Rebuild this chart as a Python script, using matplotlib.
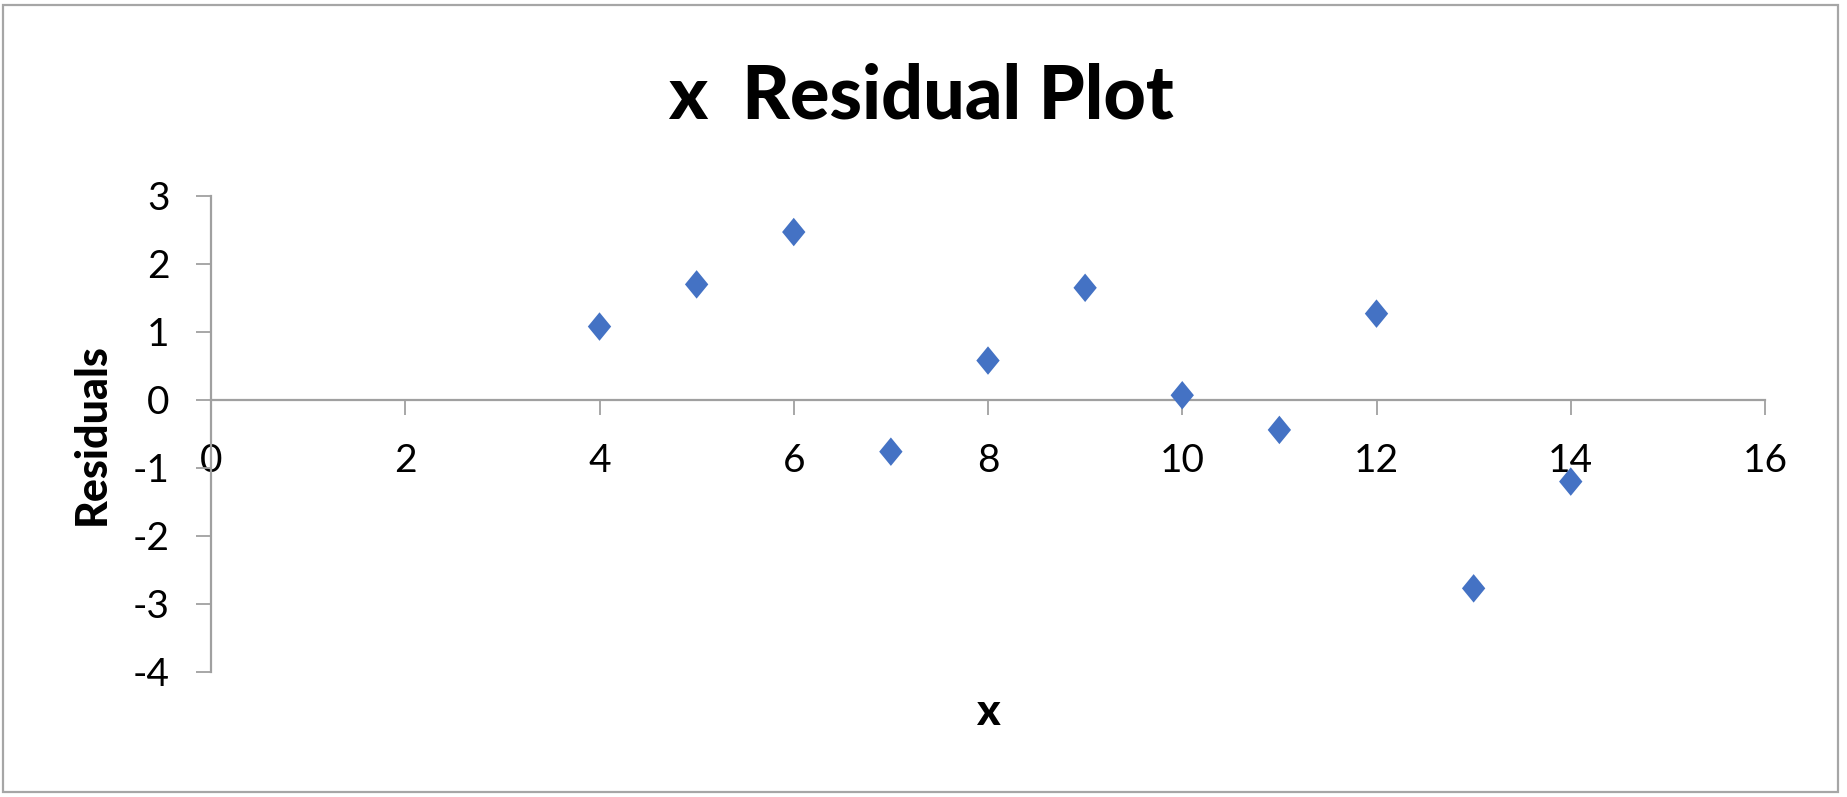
import matplotlib
matplotlib.use("Agg")
import matplotlib.pyplot as plt
from matplotlib.patches import Rectangle

x_vals = [4, 5, 6, 7, 8, 9, 10, 11, 12, 13, 14]
residuals = [1.08, 1.70, 2.47, -0.76, 0.58, 1.65, 0.07, -0.44, 1.27, -2.77, -1.20]
x_ticks = [0, 2, 4, 6, 8, 10, 12, 14, 16]
y_ticks = [-4, -3, -2, -1, 0, 1, 2, 3]
title = "x  Residual Plot"
x_label = "x"
y_label = "Residuals"

plt.rcParams['font.family'] = ['Lato', 'DejaVu Sans']
plt.rcParams['axes.unicode_minus'] = False

W, H, DPI = 1847, 797, 100
fig = plt.figure(figsize=(W / DPI, H / DPI), dpi=DPI)
fig.patch.set_facecolor('white')

# outer chart border
fig.add_artist(Rectangle((3 / W, 5 / H), 1835 / W, 787 / H, transform=fig.transFigure,
                         fill=False, edgecolor='#a6a6a6', linewidth=1.6))

left, right = 211 / W, 1765 / W
bottom, top = 1 - 672 / H, 1 - 196 / H
ax = fig.add_axes([left, bottom, right - left, top - bottom])

diamond = [(0, 1), (0.82, 0), (0, -1), (-0.82, 0), (0, 1)]
ax.scatter(x_vals, residuals, marker=diamond, s=20.5 ** 2, color='#4472C4',
           edgecolors='none', zorder=3, clip_on=False)

ax.set_xlim(0, 16)
ax.set_ylim(-4, 3)
ax.set_xticks(x_ticks)
ax.set_yticks(y_ticks)
ax.set_xticklabels([str(v) for v in x_ticks])
ax.set_yticklabels([str(v) for v in y_ticks])

axis_col = '#a0a0a0'
for s in ['top', 'right']:
    ax.spines[s].set_visible(False)
ax.spines['bottom'].set_position(('data', 0))
ax.spines['bottom'].set_color(axis_col)
ax.spines['left'].set_color(axis_col)
ax.spines['bottom'].set_linewidth(1.6)
ax.spines['left'].set_linewidth(1.6)

ax.tick_params(axis='x', direction='out', length=10.8, width=1.3, color=axis_col,
               labelsize=28, pad=20)
ax.tick_params(axis='y', direction='out', length=10.8, width=1.3, color=axis_col,
               labelsize=28, pad=19)
ax.set_facecolor('none')

fig.text(921 / W, 1 - 97 / H, title, ha='center', va='center', fontsize=53,
         fontweight='black', color='black')
fig.text(988 / W, 1 - 712 / H, x_label, ha='center', va='center', fontsize=32,
         fontweight='black', color='black')
fig.text(92 / W, 1 - 434 / H, y_label, ha='center', va='center', fontsize=31,
         fontweight='black', rotation=90, color='black')

fig.savefig('out.png', dpi=DPI, facecolor='white')
